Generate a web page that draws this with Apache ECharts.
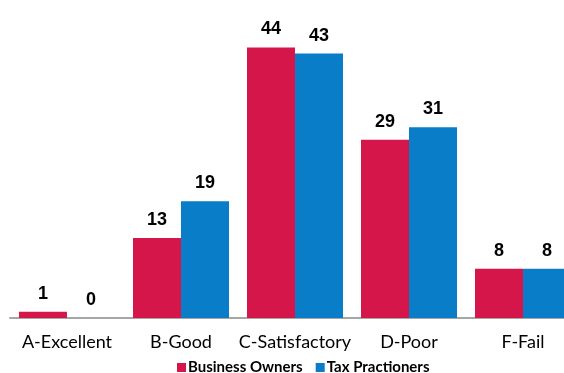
<!DOCTYPE html>
<html>
<head>
<meta charset="utf-8">
<script src="https://cdn.jsdelivr.net/npm/echarts@6/dist/echarts.min.js"></script>
<style>
  html, body { margin: 0; padding: 0; background: #fff; overflow: hidden; width: 564px; height: 373px; }
  #chart { width: 600px; height: 373px; }
</style>
</head>
<body>
<div id="chart"></div>
<script>
// Grades given by each group (percent)
const categories = ['A-Excellent', 'B-Good', 'C-Satisfactory', 'D-Poor', 'F-Fail'];
const businessOwners = [1, 13, 44, 29, 8];
const taxPractioners = [0, 19, 43, 31, 8];
const seriesNames = ['Business Owners', 'Tax Practioners'];

const RED = '#D5164B';
const BLUE = '#0A7DC9';
const FONT = 'Lato, "Open Sans", sans-serif';

// The plot runs past the right edge of the visible page, so the
// canvas is wider than the window and clipped by the body.
const chart = echarts.init(document.getElementById('chart'), null, { renderer: 'canvas' });

const labelStyle = {
  show: true,
  position: 'top',
  distance: 9,
  color: '#000',
  fontFamily: '"Liberation Sans", Arial, sans-serif',
  fontWeight: 'bold',
  fontSize: 18
};

chart.setOption({
  animation: false,
  grid: { left: 10, top: 10.5, width: 570, bottom: 55, containLabel: false },
  legend: {
    top: 355,
    left: 172,
    itemWidth: 9,
    itemHeight: 9,
    itemGap: 13,
    icon: 'rect',
    textStyle: { fontFamily: FONT, fontSize: 15, fontWeight: 'bold', color: '#000', padding: [0, 0, 0, -3] },
    data: seriesNames
  },
  xAxis: {
    type: 'category',
    data: categories,
    axisTick: { show: false },
    axisLine: { lineStyle: { color: '#A6A6A6', width: 2 } },
    axisLabel: { color: '#000', fontFamily: FONT, fontSize: 18, margin: 15, interval: 0 }
  },
  yAxis: {
    type: 'value',
    min: 0,
    max: 50,
    show: false,
    splitLine: { show: false }
  },
  series: [
    {
      name: seriesNames[0],
      type: 'bar',
      data: businessOwners,
      barWidth: 48,
      barGap: '0%',
      itemStyle: { color: RED },
      label: labelStyle
    },
    {
      name: seriesNames[1],
      type: 'bar',
      data: taxPractioners,
      barWidth: 48,
      barGap: '0%',
      itemStyle: { color: BLUE },
      label: labelStyle
    }
  ]
});
</script>
</body>
</html>
